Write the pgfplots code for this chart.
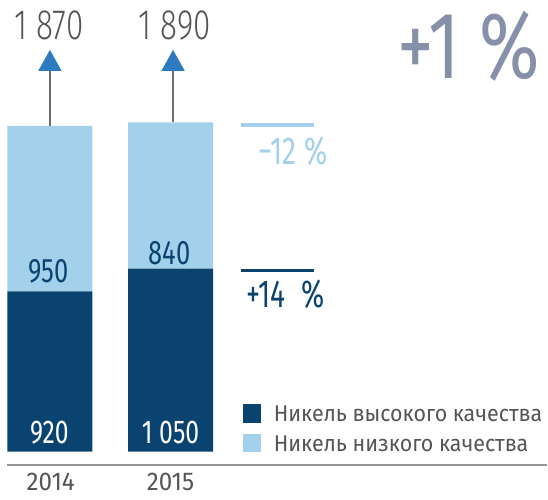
\documentclass[border=0pt]{standalone}
\usepackage{fontspec}
\setmainfont{Fira Sans}[FakeStretch=0.94]
\newfontfamily\numfont{Fira Sans}[FakeStretch=0.75]
\newfontfamily\pctfont{Fira Sans}[FakeStretch=0.72]
\newfontfamily\bigfont{Fira Sans}[FakeStretch=0.77]
\IfFontExistsTF{Fira Sans Light}{\newfontfamily\lightfont{Fira Sans Light}[FakeStretch=0.74]}{\newfontfamily\lightfont{Fira Sans}[FakeStretch=0.74]}
\usepackage{pgfplots}
\pgfplotsset{compat=1.18}
\definecolor{darkbar}{RGB}{11,67,112}
\definecolor{lightbar}{RGB}{163,208,234}
\definecolor{arrowblue}{RGB}{43,123,190}
\definecolor{txtgray}{RGB}{85,85,85}
\definecolor{pctgray}{RGB}{134,144,168}
\definecolor{axgray}{RGB}{150,150,150}
\definecolor{stemgray}{RGB}{110,110,110}
\begin{document}
\begin{tikzpicture}[x=1bp,y=1bp]
\begin{axis}[
  scale only axis, width=548bp, height=452.3bp,
  xmin=-0.4139, xmax=4.1225, ymin=0, ymax=2592,
  axis lines=none, ybar stacked, bar width=85bp, clip=false]
\addplot[fill=darkbar, draw=none] coordinates {(0,920) (1,1050)};
\addplot[fill=lightbar, draw=none] coordinates {(0,950) (1,840)};
% baseline
\draw[axgray, line width=1.5bp] (axis cs:-0.3535,-77.4) -- (axis cs:4.1225,-77.4);
% arrows
\draw[stemgray, line width=1.5bp] (axis cs:0,1870) -- (axis cs:0,2186);
\fill[arrowblue] (axis cs:-0.0969,2185.1) -- (axis cs:0.0969,2185.1) -- (axis cs:0,2305.4) -- cycle;
\draw[stemgray, line width=1.5bp] (axis cs:1.0207,1890) -- (axis cs:1.0207,2186);
\fill[arrowblue] (axis cs:0.9238,2185.1) -- (axis cs:1.1176,2185.1) -- (axis cs:1.0207,2305.4) -- cycle;
% change lines
\draw[lightbar, line width=3.5bp] (axis cs:1.587,1875.6) -- (axis cs:2.1854,1875.6);
\draw[darkbar, line width=3.5bp] (axis cs:1.587,1040.7) -- (axis cs:2.1854,1040.7);
% legend squares
\fill[darkbar] (axis cs:1.5977,166.2) rectangle (axis cs:1.7492,271.1);
\fill[lightbar] (axis cs:1.5977,-2.3) rectangle (axis cs:1.7492,99.1);
% anchor coordinates for labels
\coordinate (t1) at (axis cs:-0.0066,2362.8);
\coordinate (t2) at (axis cs:1.0348,2362.8);
\coordinate (l1) at (axis cs:-0.011,970.2);
\coordinate (l2) at (axis cs:0.993,1073.4);
\coordinate (d1) at (axis cs:-0.005,47.6);
\coordinate (d2) at (axis cs:1.0,47.6);
\coordinate (y1) at (axis cs:0.007,-220.1);
\coordinate (y2) at (axis cs:1.0,-220.1);
\coordinate (pl) at (axis cs:2.3013,1646.4);
\coordinate (pd) at (axis cs:1.6283,825.2);
\coordinate (pb) at (axis cs:4.0621,2143.3);
\coordinate (g1) at (axis cs:1.8543,171.9);
\coordinate (g2) at (axis cs:1.8543,0);
\end{axis}
\path (0,-47.7) rectangle (548,452.3);
% totals
\node[anchor=base, text=txtgray, font=\lightfont\fontsize{42.5bp}{46bp}\selectfont, inner sep=0] at (t1) {1 870};
\node[anchor=base, text=txtgray, font=\lightfont\fontsize{42.5bp}{46bp}\selectfont, inner sep=0] at (t2) {1 890};
% segment labels
\node[anchor=base, text=darkbar, font=\numfont\fontsize{34bp}{38bp}\selectfont, inner sep=0] at (l1) {950};
\node[anchor=base, text=darkbar, font=\numfont\fontsize{34bp}{38bp}\selectfont, inner sep=0] at (l2) {840};
\node[anchor=base, text=white, font=\numfont\fontsize{33bp}{38bp}\selectfont, inner sep=0] at (d1) {920};
\node[anchor=base, text=white, font=\numfont\fontsize{33bp}{38bp}\selectfont, inner sep=0] at (d2) {1 050};
% years
\node[anchor=base, text=txtgray, font=\fontsize{25.7bp}{28bp}\selectfont, inner sep=0] at (y1) {2014};
\node[anchor=base, text=txtgray, font=\fontsize{25.7bp}{28bp}\selectfont, inner sep=0] at (y2) {2015};
% change labels
\node[anchor=base east, text=lightbar, font=\pctfont\fontsize{39bp}{42bp}\selectfont, inner sep=0] at (pl) {−12 \%};
\node[anchor=base west, text=darkbar, font=\pctfont\fontsize{39bp}{42bp}\selectfont, inner sep=0] at (pd) {+14\hspace{0.4em}\%};
% big percent
\node[anchor=base east, text=pctgray, font=\bigfont\fontsize{95bp}{100bp}\selectfont, inner sep=0] at (pb) {+1 \%};
% legend text
\node[anchor=base west, text=txtgray, font=\fontsize{22.8bp}{26bp}\selectfont, inner sep=0] at (g1) {Никель высокого качества};
\node[anchor=base west, text=txtgray, font=\fontsize{22.8bp}{26bp}\selectfont, inner sep=0] at (g2) {Никель низкого качества};
\end{tikzpicture}
\end{document}
